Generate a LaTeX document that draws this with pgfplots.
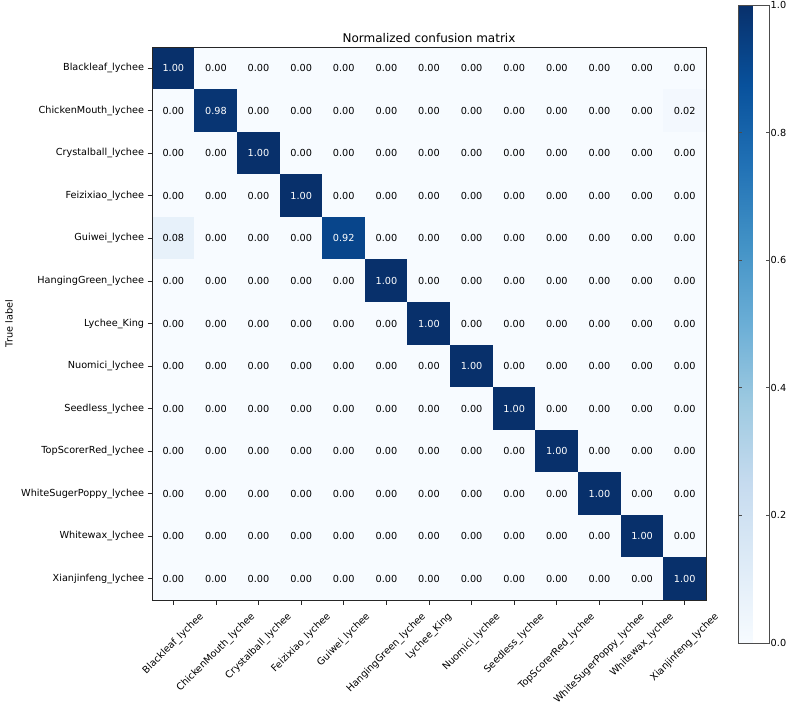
\documentclass[border=0pt]{standalone}
\usepackage{fontspec}
\setmainfont{DejaVu Sans}
\usepackage{pgfplots}
\usepackage{pgfplotstable}
\pgfplotsset{compat=1.18}

\newsavebox\lbox
\newdimen\lbx \newdimen\lby
\newcommand\rl[1]{\sbox\lbox{#1}%
 \lbx=\wd\lbox \advance\lbx\ht\lbox \advance\lbx\dp\lbox \divide\lbx 4
 \lby=\lbx
 \advance\lbx 0.5\wd\lbox \advance\lbx 5.2pt
 \advance\lby 0.5\ht\lbox \advance\lby -0.5\dp\lbox \advance\lby 5.2pt
 \makebox[0pt][l]{\hspace*{-\lbx}\raisebox{-\lby}[0pt][0pt]{\usebox\lbox}}}

\pgfplotstableread[row sep=\\]{
x y c\\
0 0 1\\1 0 0\\2 0 0\\3 0 0\\4 0 0\\5 0 0\\6 0 0\\7 0 0\\8 0 0\\9 0 0\\10 0 0\\11 0 0\\12 0 0\\
0 1 0\\1 1 0.98\\2 1 0\\3 1 0\\4 1 0\\5 1 0\\6 1 0\\7 1 0\\8 1 0\\9 1 0\\10 1 0\\11 1 0\\12 1 0.02\\
0 2 0\\1 2 0\\2 2 1\\3 2 0\\4 2 0\\5 2 0\\6 2 0\\7 2 0\\8 2 0\\9 2 0\\10 2 0\\11 2 0\\12 2 0\\
0 3 0\\1 3 0\\2 3 0\\3 3 1\\4 3 0\\5 3 0\\6 3 0\\7 3 0\\8 3 0\\9 3 0\\10 3 0\\11 3 0\\12 3 0\\
0 4 0.08\\1 4 0\\2 4 0\\3 4 0\\4 4 0.92\\5 4 0\\6 4 0\\7 4 0\\8 4 0\\9 4 0\\10 4 0\\11 4 0\\12 4 0\\
0 5 0\\1 5 0\\2 5 0\\3 5 0\\4 5 0\\5 5 1\\6 5 0\\7 5 0\\8 5 0\\9 5 0\\10 5 0\\11 5 0\\12 5 0\\
0 6 0\\1 6 0\\2 6 0\\3 6 0\\4 6 0\\5 6 0\\6 6 1\\7 6 0\\8 6 0\\9 6 0\\10 6 0\\11 6 0\\12 6 0\\
0 7 0\\1 7 0\\2 7 0\\3 7 0\\4 7 0\\5 7 0\\6 7 0\\7 7 1\\8 7 0\\9 7 0\\10 7 0\\11 7 0\\12 7 0\\
0 8 0\\1 8 0\\2 8 0\\3 8 0\\4 8 0\\5 8 0\\6 8 0\\7 8 0\\8 8 1\\9 8 0\\10 8 0\\11 8 0\\12 8 0\\
0 9 0\\1 9 0\\2 9 0\\3 9 0\\4 9 0\\5 9 0\\6 9 0\\7 9 0\\8 9 0\\9 9 1\\10 9 0\\11 9 0\\12 9 0\\
0 10 0\\1 10 0\\2 10 0\\3 10 0\\4 10 0\\5 10 0\\6 10 0\\7 10 0\\8 10 0\\9 10 0\\10 10 1\\11 10 0\\12 10 0\\
0 11 0\\1 11 0\\2 11 0\\3 11 0\\4 11 0\\5 11 0\\6 11 0\\7 11 0\\8 11 0\\9 11 0\\10 11 0\\11 11 1\\12 11 0\\
0 12 0\\1 12 0\\2 12 0\\3 12 0\\4 12 0\\5 12 0\\6 12 0\\7 12 0\\8 12 0\\9 12 0\\10 12 0\\11 12 0\\12 12 1\\
}\cm

\begin{document}
\fontsize{9.7}{11.6}\selectfont
\begin{tikzpicture}
\begin{axis}[
  at={(152pt,104pt)}, anchor=south west,
  scale only axis, width=554pt, height=553pt,
  xmin=-0.5, xmax=12.5, ymin=-0.5, ymax=12.5,
  y dir=reverse,
  axis on top,
  axis line style={black!85, line width=0.8pt},
  tick style={black!85, line width=0.8pt},
  major tick length=4.5pt,
  tick align=outside, tick pos=left,
  xtick={0,...,12}, ytick={0,...,12},
  xticklabels={\rl{Blackleaf\_lychee},\rl{ChickenMouth\_lychee},\rl{Crystalball\_lychee},\rl{Feizixiao\_lychee},\rl{Guiwei\_lychee},\rl{HangingGreen\_lychee},\rl{Lychee\_King},\rl{Nuomici\_lychee},\rl{Seedless\_lychee},\rl{TopScorerRed\_lychee},\rl{WhiteSugerPoppy\_lychee},\rl{Whitewax\_lychee},\rl{Xianjinfeng\_lychee}},
  yticklabels={Blackleaf\_lychee,ChickenMouth\_lychee,Crystalball\_lychee,Feizixiao\_lychee,Guiwei\_lychee,HangingGreen\_lychee,Lychee\_King,Nuomici\_lychee,Seedless\_lychee,TopScorerRed\_lychee,WhiteSugerPoppy\_lychee,Whitewax\_lychee,Xianjinfeng\_lychee},
  x tick label style={rotate=45, anchor=center, inner sep=0pt},
  xticklabel shift=0pt,
  title={Normalized confusion matrix},
  title style={at={(axis description cs:0.5,1)}, anchor=base, yshift=-1.5pt, font=\fontsize{12}{14}\selectfont},
  ylabel={True label},
  every axis y label/.style={at={(axis description cs:0,0.5)}, xshift=-143pt, rotate=90, anchor=center},
  colormap={blues}{rgb255=(247,251,255) rgb255=(222,235,247) rgb255=(198,219,239) rgb255=(158,202,225) rgb255=(107,174,214) rgb255=(66,146,198) rgb255=(33,113,181) rgb255=(8,81,156) rgb255=(8,48,107)},
  point meta min=0, point meta max=1,
  colorbar,
  colorbar style={
    at={(parent axis.north east)}, anchor=north west, xshift=24pt, yshift=42pt,
    scale only axis, width=31pt, height=638pt,
    y dir=normal,
    ytick={0,0.2,0.4,0.6,0.8,1},
    yticklabel style={inner sep=1pt, /pgf/number format/.cd, fixed, fixed zerofill, precision=1, assume math mode=true},
    major tick length=3.5pt,
    axis line style={black!70, line width=0.8pt},
    tick style={black!70, line width=0.8pt},
  },
]
\addplot[matrix plot*, mesh/cols=13, point meta=explicit] table[x=x, y=y, meta=c] {\cm};
\addplot[only marks, mark=none, point meta=explicit,
  visualization depends on={\thisrow{c} \as \cval},
  nodes near coords={\pgfmathparse{\cval>0.5 ? 1 : 0}\ifnum\pgfmathresult>0 \color{white}\fi\pgfmathprintnumber[fixed,fixed zerofill,precision=2,assume math mode=true]{\cval}},
  nodes near coords align={center},
] table[x=x, y=y, meta=c] {\cm};
\end{axis}
\pgfresetboundingbox
\useasboundingbox (0,0) rectangle (794pt,704pt);
\end{tikzpicture}
\end{document}
